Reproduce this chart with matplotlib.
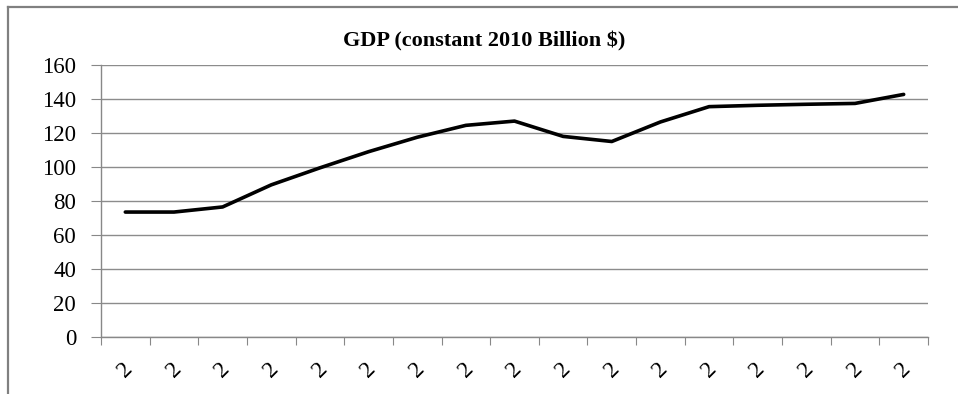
import matplotlib.pyplot as plt
from matplotlib.lines import Line2D

# GDP series, one value per year (labels clipped to "2" as in the original)
gdp = [73.5, 73.5, 76.5, 89.5, 99.5, 109.0, 117.5, 124.5, 127.0,
       118.0, 115.0, 126.5, 135.5, 136.3, 136.9, 137.4, 142.7]
year_labels = ["2"] * len(gdp)
y_ticks = [0, 20, 40, 60, 80, 100, 120, 140, 160]

plt.rcParams['font.family'] = ['Liberation Serif', 'DejaVu Serif']

W, H = 958, 394
fig = plt.figure(figsize=(W / 100, H / 100), dpi=100)

# plot area in pixels: left 101, right 928, top 65, bottom 337
ax = fig.add_axes([101 / W, 1 - 337 / H, (928 - 101) / W, (337 - 65) / H])

n = len(gdp)
xs = [i + 0.5 for i in range(n)]
ax.plot(xs, gdp, color='black', lw=2.6, solid_joinstyle='round', solid_capstyle='round')

ax.set_xlim(0, n)
ax.set_ylim(0, 160)
ax.set_yticks(y_ticks)
ax.set_yticklabels([str(v) for v in y_ticks], fontsize=16.5)

# boundary ticks (major) and centred labels (minor)
ax.set_xticks(range(n + 1))
ax.set_xticklabels([])
ax.set_xticks(xs, minor=True)
ax.set_xticklabels(year_labels, minor=True, rotation=45, fontsize=17,
                   ha='center', va='center')
ax.tick_params(axis='x', which='minor', length=0, pad=24)
ax.tick_params(axis='x', which='major', length=6, color='#888888', direction='out')
ax.tick_params(axis='y', length=7, color='#888888', direction='out', pad=11)

ax.grid(axis='y', color='#8c8c8c', lw=1.0)
ax.set_axisbelow(True)
for s in ['top', 'right']:
    ax.spines[s].set_visible(False)
for s in ['left', 'bottom']:
    ax.spines[s].set_color('#888888')
    ax.spines[s].set_linewidth(1.0)

fig.text(484 / W, 1 - 41 / H, "GDP (constant 2010 Billion $)", ha='center', va='center',
         fontsize=16, fontweight='bold')

# outer chart border (partly cut off)
fig.add_artist(Line2D([8 / W, 8 / W], [0, 1 - 7 / H], color='#808080', lw=1.6))
fig.add_artist(Line2D([8 / W, 1], [1 - 7 / H, 1 - 7 / H], color='#808080', lw=1.6))

fig.savefig('out.png', dpi=100)
